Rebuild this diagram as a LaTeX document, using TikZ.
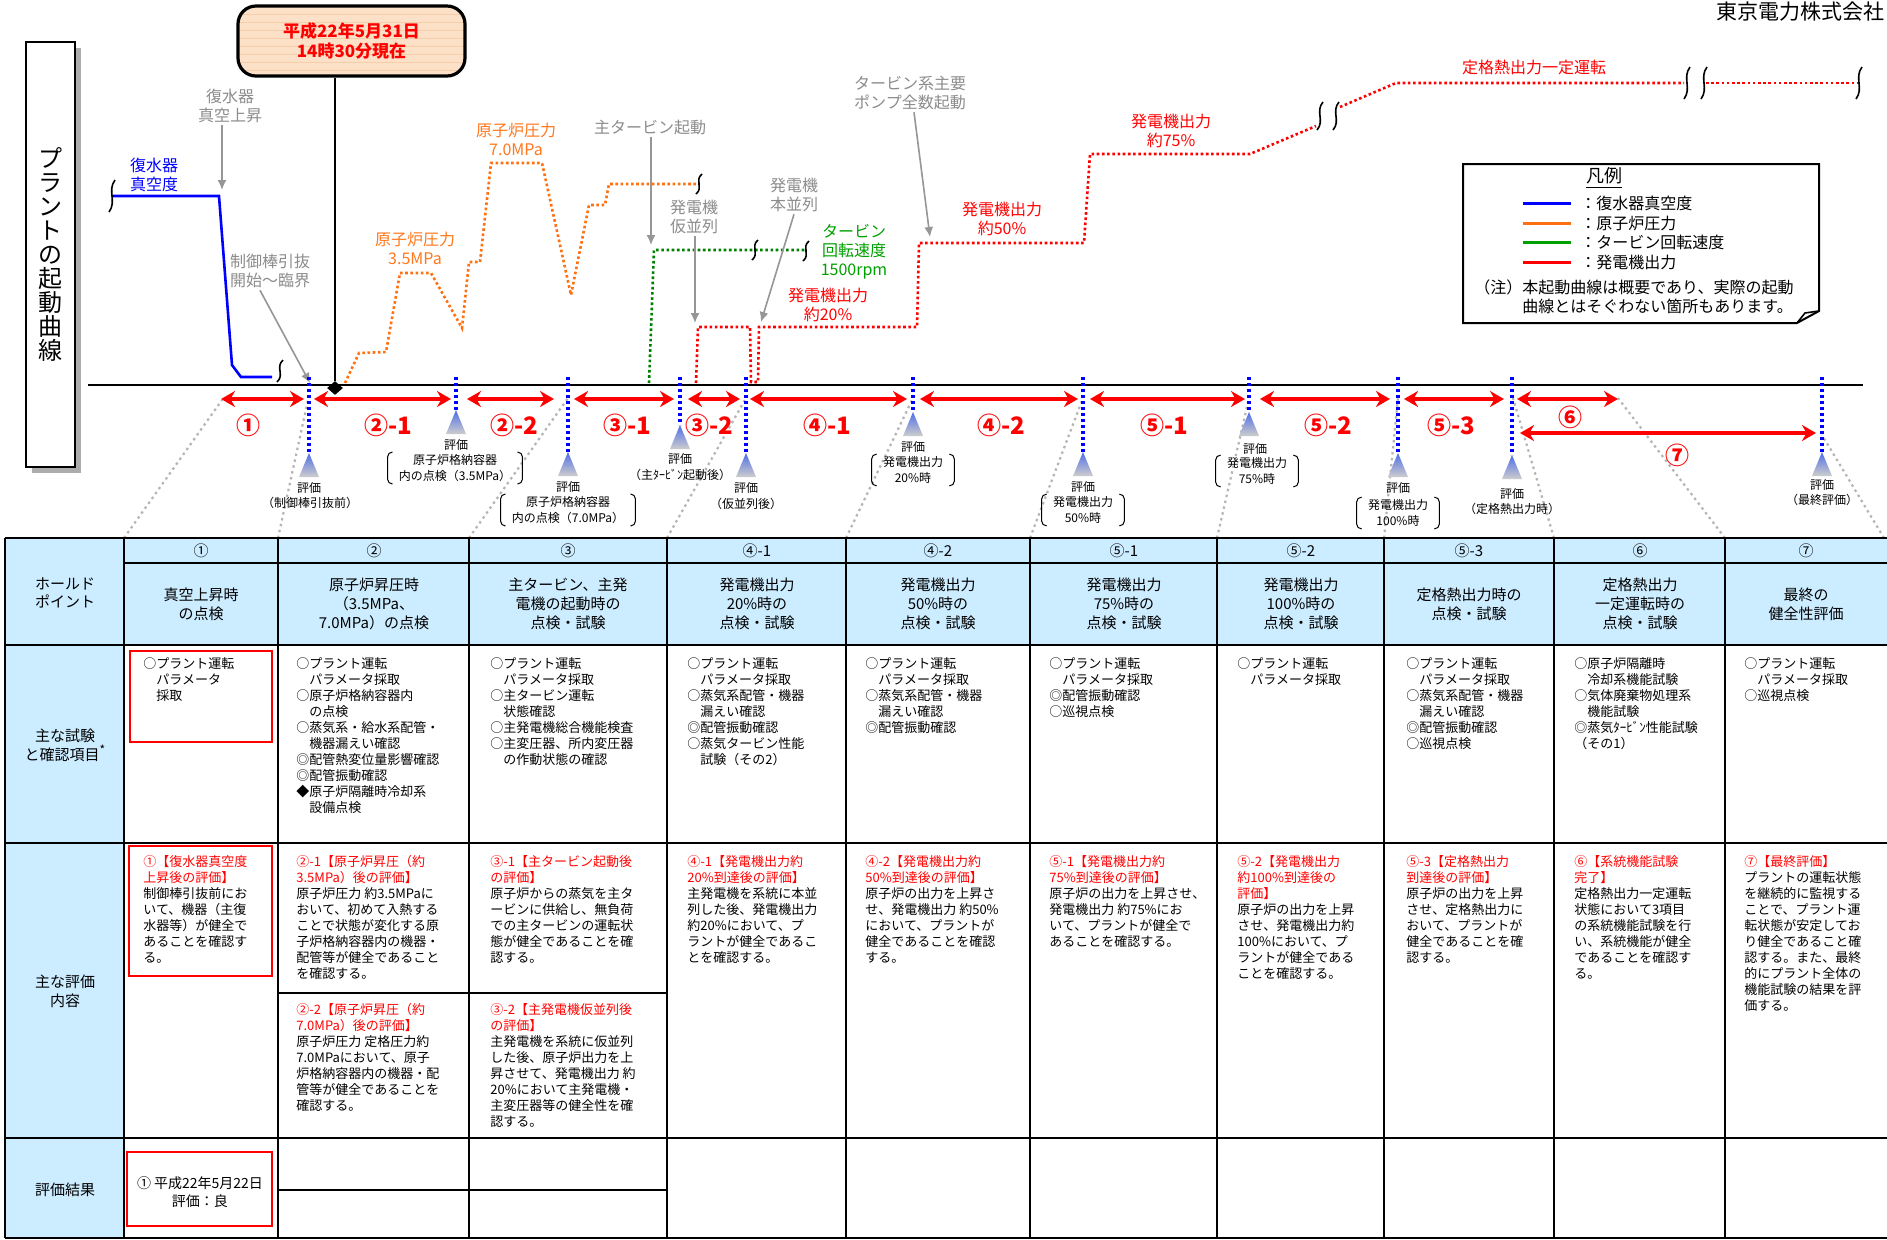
\documentclass[tikz,border=0pt]{standalone}
\usepackage{fontspec}
\setmainfont{Noto Sans CJK JP}
\usetikzlibrary{arrows.meta,shapes.geometric}
\definecolor{hdrblue}{RGB}{204,236,255}
\definecolor{peach}{RGB}{252,224,200}
\definecolor{stripeC}{RGB}{246,206,168}
\definecolor{curveB}{RGB}{0,0,255}
\definecolor{curveO}{RGB}{255,112,16}
\definecolor{curveG}{RGB}{0,128,0}
\definecolor{curveR}{RGB}{255,0,0}
\definecolor{txtGray}{RGB}{140,140,140}
\definecolor{arrGray}{RGB}{150,150,150}
\definecolor{dotGray}{RGB}{180,180,180}
\definecolor{triTop}{RGB}{80,110,230}
\definecolor{triBot}{RGB}{205,205,205}
\definecolor{lblGreen}{RGB}{0,160,0}
\definecolor{lblOrange}{RGB}{255,120,30}
\newcommand{\fsLbl}{\fontsize{8pt}{9.5pt}\selectfont}
\newcommand{\fsBody}{\fontsize{6.5pt}{8pt}\selectfont}
\newcommand{\fsHdr}{\fontsize{7.5pt}{9.4pt}\selectfont}
\newcommand{\fsEval}{\fontsize{6pt}{8pt}\selectfont}
\newcommand{\fsSeg}{\bfseries\fontsize{12pt}{14pt}\selectfont}
\newcommand{\redtxt}[1]{\textcolor{curveR}{#1}}
\newcommand{\brkmk}[3]{\draw[line width=0.8pt] ({#1+3},{#2-#3}) .. controls ({#1-5},{#2-#3/3}) and ({#1+5},{#2+#3/3}) .. ({#1-3},{#2+#3});}
\newcommand{\parens}[1]{%
  \draw[line width=0.5pt,rounded corners=2.5pt] ([xshift=-2pt]#1.north west) -- ([xshift=-4.5pt]#1.north west) -- ([xshift=-4.5pt]#1.south west) -- ([xshift=-2pt]#1.south west);
  \draw[line width=0.5pt,rounded corners=2.5pt] ([xshift=2pt]#1.north east) -- ([xshift=4.5pt]#1.north east) -- ([xshift=4.5pt]#1.south east) -- ([xshift=2pt]#1.south east);}
\tikzset{
  lbl/.style={font=\fsLbl,align=center,inner sep=1pt},
  gryLbl/.style={lbl,text=txtGray},
  gryArr/.style={draw=arrGray,line width=0.8pt,>={Latex[length=5pt,width=4.5pt]},->},
  dotCurve/.style={line width=1.3pt,dash pattern=on 1.3pt off 1.3pt},
  segArr/.style={draw=curveR,line width=2pt,>={Stealth[length=7pt,width=8pt]},<->},
  segLbl/.style={text=curveR,font=\fsSeg,inner sep=0},
  evLine/.style={draw=curveB,line width=1.6pt,dash pattern=on 1.6pt off 1.4pt},
  evLbl/.style={font=\fsEval,align=center,inner sep=1pt},
  projLine/.style={draw=dotGray,line width=1.1pt,dash pattern=on 1.2pt off 1.8pt},
  hdrTxt/.style={font=\fsHdr,align=center,inner sep=0},
  bodyTxt/.style={font=\fsBody,align=left,anchor=north west,inner sep=0},
  redBox/.style={draw=curveR,line width=1.4pt},
  tblH/.style={line width=1.3pt},
  tblV/.style={line width=1pt},
  datebox/.style={draw,line width=1.6pt,rounded corners=9pt,fill=peach,minimum width=113.5pt,minimum height=35pt,
    align=center,text=curveR,font=\bfseries\fontsize{8.5pt}{10pt}\selectfont,
    path picture={\foreach \k in {1,...,8} \draw[stripeC,line width=0.4pt]
      ([yshift=-\k*4pt]path picture bounding box.north west) -- ([yshift=-\k*4pt]path picture bounding box.north east);}}
}
\begin{document}
\begin{tikzpicture}[x=0.5pt,y=-0.5pt]
\useasboundingbox (0,0) rectangle (1887,1239);
\fill[white] (0,0) rectangle (1887,1239);

\node[anchor=north east,font=\fontsize{10.5pt}{12pt}\selectfont,inner sep=0] (company) at (1885,1) {東京電力株式会社};

\fill[gray!65] (32,48) rectangle (81,473);
\node[draw,line width=0.8pt,fill=white,minimum width=24.5pt,minimum height=212.5pt,inner sep=0,align=center,
  font=\fontsize{12pt}{12pt}\selectfont] (title) at (50.5,254.5) {プ\\ラ\\ン\\ト\\の\\起\\動\\曲\\線};

\node[datebox] (now) at (351.5,41) {平成22年5月31日\\14時30分現在};
\node[diamond,fill=black,inner sep=0,minimum width=8pt,minimum height=7pt] (nowMark) at (335,388) {};

\draw[line width=1.3pt] (88,385) -- (1863,385);
\draw[line width=1.2pt] (now.south -| nowMark) -- (nowMark);

% curves
\draw[curveB,line width=1.3pt] (112,196) -- (219,196) -- (232,365) -- (241,377) -- (272,377);
\brkmk{112}{196}{16}
\brkmk{280}{371}{11}
\draw[curveO,dotCurve] (345,383) -- (359,353) -- (386,352) -- (400,273) -- (431,273) -- (462,328) -- (469,262)
  -- (480,262) -- (491,163) -- (542,163) -- (571,295) -- (589,205) -- (605,205) -- (609,184) -- (698,184);
\brkmk{699}{184}{10}
\draw[curveG,dotCurve] (649,383) -- (654,250) -- (805,250);
\brkmk{755}{250}{10}
\brkmk{806}{251}{10}
\draw[curveR,dotCurve] (696,383) -- (698,327) -- (750,327) -- (751,382) -- (758,382) -- (759,327) -- (917,327)
  -- (919,243) -- (1084,243) -- (1090,154) -- (1250,154) -- (1316,126);
\draw[curveR,dotCurve] (1340,107) -- (1396,83) -- (1684,83);
\draw[curveR,dotCurve] (1706,83) -- (1857,83);
\brkmk{1320}{116}{14}
\brkmk{1336}{116}{14}
\brkmk{1687}{83}{16}
\brkmk{1704}{83}{16}
\brkmk{1859}{83}{16}

% curve labels
\node[lbl,text=curveB] (vacLbl) at (154,175) {復水器\\真空度};
\node[gryLbl] (vacUp) at (230,106) {復水器\\真空上昇};
\coordinate (vacUpTip) at (222,190);
\draw[gryArr] (vacUp.south -| vacUpTip) -- (vacUpTip);
\node[gryLbl] (rodLbl) at (270,271) {制御棒引抜\\開始～臨界};
\coordinate (rodTip) at (310,383);
\draw[gryArr] ([xshift=-5pt]rodLbl.south) -- (rodTip);
\node[lbl,text=lblOrange] (p35) at (415,248) {原子炉圧力\\3.5MPa};
\node[lbl,text=lblOrange] (p70) at (516,139) {原子炉圧力\\7.0MPa};
\node[gryLbl] (tbStart) at (650,127) {主タービン起動};
\coordinate (tbTip) at (651,245);
\draw[gryArr] (tbStart.south -| tbTip) -- (tbTip);
\node[gryLbl] (gTemp) at (694,217) {発電機\\仮並列};
\coordinate (gTempTip) at (695,323);
\draw[gryArr] (gTemp.south -| gTempTip) -- (gTempTip);
\node[gryLbl] (gMain) at (794,195) {発電機\\本並列};
\coordinate (gMainTip) at (761,322);
\draw[gryArr] (gMain.south) -- (gMainTip);
\node[lbl,text=lblGreen] (tbSpd) at (854,252) {タービン\\回転速度\\1500rpm};
\node[lbl,text=curveR] (o20) at (828,305) {発電機出力\\約20\%};
\node[gryLbl] (pumps) at (910,93) {タービン系主要\\ポンプ全数起動};
\coordinate (pumpTip) at (930,237);
\draw[gryArr] ([xshift=2pt]pumps.south) -- (pumpTip);
\node[lbl,text=curveR] (o50) at (1002,219) {発電機出力\\約50\%};
\node[lbl,text=curveR] (o75) at (1171,131) {発電機出力\\約75\%};
\node[lbl,text=curveR] (rated) at (1534,67) {定格熱出力一定運転};

% legend
\draw[line width=1pt] (1463,164) -- (1819,164) -- (1819,311) -- (1797,323) -- (1463,323) -- cycle;
\draw[line width=0.8pt] (1797,323) -- (1805,313) -- (1819,311);
\node[font=\fontsize{9pt}{10pt}\selectfont,inner sep=0] (lgTitle) at (1604,178) {\underline{凡例}};
\foreach \yy/\c/\t in {203/curveB/復水器真空度,223/curveO/原子炉圧力,242/lblGreen/タービン回転速度,262/curveR/発電機出力}
{
  \draw[\c,line width=1.5pt] (1523,\yy) -- (1571,\yy);
  \node[lbl,anchor=west] (lg\yy) at (1578,\yy) {：\t};
}
\node[lbl,anchor=west,align=left] (lgNote) at (1472,296.5) {（注）本起動曲線は概要であり、実際の起動\\\hspace*{3em}曲線とはそぐわない箇所もあります。};

% projection lines
\foreach \xt/\xa/\ya in {124/222/400,278/308/400,469/568/398,667/746/398,846/913/398,1030/1083/398,
  1217/1249/398,1384/1398/398,1554/1513/398,1725/1618/398,1884/1822/435}
  \draw[projLine] (\xt,538) -- (\xa,\ya);

% steps
\foreach \xa/\xb/\xl/\t in {221/304/248/①,314/451/388/②-1,467/554/514/②-2,574/674/627/③-1,688/740/709/③-2,
  750/907/827/④-1,920/1078/1001/④-2,1090/1245/1164/⑤-1,1260/1390/1328/⑤-2,1404/1504/1451/⑤-3}
{
  \draw[segArr] (\xa,399) -- (\xb,399);
  \node[segLbl] (seg\xl) at (\xl,425) {\t};
}
\draw[segArr] (1517,399) -- (1618,399);
\node[segLbl] (seg6) at (1570,417) {⑥};
\draw[segArr] (1520,433) -- (1816,433);
\node[segLbl] (seg7) at (1677,455) {⑦};

% evaluation points
\foreach \x/\t in {309/453,456/410,568/452,680/425,746/453,913/412,1083/452,1249/412,1398/453,1512/455,1822/452}
{
  \draw[evLine] (\x,377) -- (\x,\t);
  \shade[top color=triTop,bottom color=triBot] (\x,\t) -- ({\x+10},{\t+24}) -- ({\x-10},{\t+24}) -- cycle;
}
\node[evLbl] (ev1) at (309,488) {評価};
\node[evLbl] (ev1s) at (310,503) {（制御棒引抜前）};
\node[evLbl] (ev2) at (456,445) {評価};
\node[evLbl] (ev2s) at (455,468) {原子炉格納容器\\内の点検（3.5MPa）};
\node[evLbl] (ev3) at (568,487) {評価};
\node[evLbl] (ev3s) at (568,510) {原子炉格納容器\\内の点検（7.0MPa）};
\node[evLbl] (ev4) at (680,459) {評価};
\node[evLbl] (ev4s) at (680,475) {（主ﾀｰﾋﾞﾝ起動後）};
\node[evLbl] (ev5) at (746,488) {評価};
\node[evLbl] (ev5s) at (746,504) {（仮並列後）};
\node[evLbl] (ev6) at (913,447) {評価};
\node[evLbl] (ev6s) at (913,470) {発電機出力\\20\%時};
\node[evLbl] (ev7) at (1083,487) {評価};
\node[evLbl] (ev7s) at (1083,510) {発電機出力\\50\%時};
\node[evLbl] (ev8) at (1255,449) {評価};
\node[evLbl] (ev8s) at (1257,471) {発電機出力\\75\%時};
\node[evLbl] (ev9) at (1398,488) {評価};
\node[evLbl] (ev9s) at (1398,513) {発電機出力\\100\%時};
\node[evLbl] (ev10) at (1512,494) {評価};
\node[evLbl] (ev10s) at (1512,509) {（定格熱出力時）};
\node[evLbl] (ev11) at (1822,485) {評価};
\node[evLbl] (ev11s) at (1822,500) {（最終評価）};
\parens{ev2s} \parens{ev3s} \parens{ev6s} \parens{ev7s} \parens{ev8s} \parens{ev9s}

% table
\fill[hdrblue] (5,538) rectangle (1887,645);
\fill[hdrblue] (5,645) rectangle (124,1238);
\foreach \yy in {538,645,843,1138,1238} \draw[tblH] (5,\yy) -- (1887,\yy);
\draw[tblV] (124,563) -- (1887,563);
\draw[tblV] (278,993) -- (667,993);
\draw[tblV] (278,1190) -- (667,1190);
\foreach \xx in {5,124,278,469,667,846,1030,1217,1384,1554,1725} \draw[tblV] (\xx,538) -- (\xx,1238);

\foreach \xc/\t in {201/①,374/②,568/③,757/④-1,938/④-2,1124/⑤-1,1301/⑤-2,1469/⑤-3,1640/⑥,1806/⑦}
  \node[hdrTxt] (hn\xc) at (\xc,551) {\t};
\node[hdrTxt] (h1) at (201,604) {真空上昇時\\の点検};
\node[hdrTxt] (h2) at (374,604) {原子炉昇圧時\\（3.5MPa、\\7.0MPa）の点検};
\node[hdrTxt] (h3) at (568,604) {主タービン、主発\\電機の起動時の\\点検・試験};
\node[hdrTxt] (h4) at (757,604) {発電機出力\\20\%時の\\点検・試験};
\node[hdrTxt] (h5) at (938,604) {発電機出力\\50\%時の\\点検・試験};
\node[hdrTxt] (h6) at (1124,604) {発電機出力\\75\%時の\\点検・試験};
\node[hdrTxt] (h7) at (1301,604) {発電機出力\\100\%時の\\点検・試験};
\node[hdrTxt] (h8) at (1469,604) {定格熱出力時の\\点検・試験};
\node[hdrTxt] (h9) at (1640,604) {定格熱出力\\一定運転時の\\点検・試験};
\node[hdrTxt] (h10) at (1806,604) {最終の\\健全性評価};

\node[hdrTxt] (rHold) at (65,593) {ホールド\\ポイント};
\node[hdrTxt] (rTest) at (65,745) {主な試験\\と確認項目\raisebox{3pt}{\fontsize{6pt}{6pt}\selectfont *}};
\node[hdrTxt] (rEval) at (65,991) {主な評価\\内容};
\node[hdrTxt] (rRes) at (65,1190) {評価結果};

\draw[redBox] (130,651) rectangle (272,742);
\draw[redBox] (129,846) rectangle (272,976);
\draw[redBox] (127,1152) rectangle (272,1226);

\node[bodyTxt] (t1) at (143,657) {○プラント運転\\　パラメータ\\　採取};
\node[bodyTxt] (t2) at (296,657) {○プラント運転\\　パラメータ採取\\○原子炉格納容器内\\　の点検\\○蒸気系・給水系配管・\\　機器漏えい確認\\◎配管熱変位量影響確認\\◎配管振動確認\\◆原子炉隔離時冷却系\\　設備点検};
\node[bodyTxt] (t3) at (490,657) {○プラント運転\\　パラメータ採取\\○主タービン運転\\　状態確認\\○主発電機総合機能検査\\○主変圧器、所内変圧器\\　の作動状態の確認};
\node[bodyTxt] (t4) at (687,657) {○プラント運転\\　パラメータ採取\\○蒸気系配管・機器\\　漏えい確認\\◎配管振動確認\\○蒸気タービン性能\\　試験（その2）};
\node[bodyTxt] (t5) at (865,657) {○プラント運転\\　パラメータ採取\\○蒸気系配管・機器\\　漏えい確認\\◎配管振動確認};
\node[bodyTxt] (t6) at (1049,657) {○プラント運転\\　パラメータ採取\\◎配管振動確認\\○巡視点検};
\node[bodyTxt] (t7) at (1237,657) {○プラント運転\\　パラメータ採取};
\node[bodyTxt] (t8) at (1406,657) {○プラント運転\\　パラメータ採取\\○蒸気系配管・機器\\　漏えい確認\\◎配管振動確認\\○巡視点検};
\node[bodyTxt] (t9) at (1574,657) {○原子炉隔離時\\　冷却系機能試験\\○気体廃棄物処理系\\　機能試験\\◎蒸気ﾀｰﾋﾞﾝ性能試験\\（その1）};
\node[bodyTxt] (t10) at (1744,657) {○プラント運転\\　パラメータ採取\\○巡視点検};

\node[bodyTxt] (e1) at (143,855) {\redtxt{①【復水器真空度}\\\redtxt{上昇後の評価】}\\制御棒引抜前にお\\いて、機器（主復\\水器等）が健全で\\あることを確認す\\る。};
\node[bodyTxt] (e2a) at (296,855) {\redtxt{②-1【原子炉昇圧（約}\\\redtxt{3.5MPa）後の評価】}\\原子炉圧力 約3.5MPaに\\おいて、初めて入熱する\\ことで状態が変化する原\\子炉格納容器内の機器・\\配管等が健全であること\\を確認する。};
\node[bodyTxt] (e2b) at (296,1003) {\redtxt{②-2【原子炉昇圧（約}\\\redtxt{7.0MPa）後の評価】}\\原子炉圧力 定格圧力約\\7.0MPaにおいて、原子\\炉格納容器内の機器・配\\管等が健全であることを\\確認する。};
\node[bodyTxt] (e3a) at (490,855) {\redtxt{③-1【主タービン起動後}\\\redtxt{の評価】}\\原子炉からの蒸気を主タ\\ービンに供給し、無負荷\\での主タービンの運転状\\態が健全であることを確\\認する。};
\node[bodyTxt] (e3b) at (490,1003) {\redtxt{③-2【主発電機仮並列後}\\\redtxt{の評価】}\\主発電機を系統に仮並列\\した後、原子炉出力を上\\昇させて、発電機出力 約\\20\%において主発電機・\\主変圧器等の健全性を確\\認する。};
\node[bodyTxt] (e4) at (687,855) {\redtxt{④-1【発電機出力約}\\\redtxt{20\%到達後の評価】}\\主発電機を系統に本並\\列した後、発電機出力\\約20\%において、プ\\ラントが健全であるこ\\とを確認する。};
\node[bodyTxt] (e5) at (865,855) {\redtxt{④-2【発電機出力約}\\\redtxt{50\%到達後の評価】}\\原子炉の出力を上昇さ\\せ、発電機出力 約50\%\\において、プラントが\\健全であることを確認\\する。};
\node[bodyTxt] (e6) at (1049,855) {\redtxt{⑤-1【発電機出力約}\\\redtxt{75\%到達後の評価】}\\原子炉の出力を上昇させ、\\発電機出力 約75\%にお\\いて、プラントが健全で\\あることを確認する。};
\node[bodyTxt] (e7) at (1237,855) {\redtxt{⑤-2【発電機出力}\\\redtxt{約100\%到達後の}\\\redtxt{評価】}\\原子炉の出力を上昇\\させ、発電機出力約\\100\%において、プ\\ラントが健全である\\ことを確認する。};
\node[bodyTxt] (e8) at (1406,855) {\redtxt{⑤-3【定格熱出力}\\\redtxt{到達後の評価】}\\原子炉の出力を上昇\\させ、定格熱出力に\\おいて、プラントが\\健全であることを確\\認する。};
\node[bodyTxt] (e9) at (1574,855) {\redtxt{⑥【系統機能試験}\\\redtxt{完了】}\\定格熱出力一定運転\\状態において3項目\\の系統機能試験を行\\い、系統機能が健全\\であることを確認す\\る。};
\node[bodyTxt] (e10) at (1744,855) {\redtxt{⑦【最終評価】}\\プラントの運転状態\\を継続的に監視する\\ことで、プラント運\\転状態が安定してお\\り健全であること確\\認する。また、最終\\的にプラント全体の\\機能試験の結果を評\\価する。};

\node[font=\fontsize{7pt}{9pt}\selectfont,align=center,inner sep=0] (res1) at (200,1192) {① 平成22年5月22日\\評価：良};
\end{tikzpicture}
\end{document}
